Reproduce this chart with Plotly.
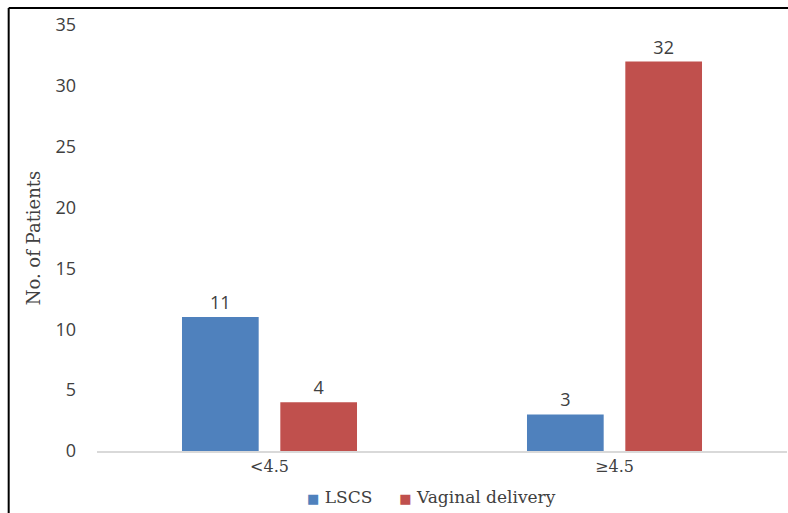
import plotly.graph_objects as go

categories = ["<4.5", "≥4.5"]
lscs = [11, 3]
vaginal = [4, 32]
y_ticks = [0, 5, 10, 15, 20, 25, 30, 35]
series_names = ["LSCS", "Vaginal delivery"]
series_colors = ["#4F81BD", "#C0504D"]

SERIF = "'DejaVu Serif', serif"
SANS = "'Open Sans', 'Noto Sans', sans-serif"
TEXT = "#404040"

fig = go.Figure()
for name, values, color in zip(series_names, [lscs, vaginal], series_colors):
    fig.add_trace(go.Bar(
        name=name, x=categories, y=values,
        marker=dict(color=color, line=dict(width=0)),
        text=values, textposition="outside", cliponaxis=False,
        textfont=dict(family=SANS, size=18, color=TEXT),
        showlegend=False,
    ))

# compact legend line under the category labels
legend_text = "     ".join(
    f"<span style='color:{c};font-size:13px'>■</span> {n}"
    for n, c in zip(series_names, series_colors)
)

fig.update_layout(
    width=788, height=513,
    margin=dict(l=97, r=1, t=25, b=62),
    paper_bgcolor="white", plot_bgcolor="white",
    barmode="group", bargap=0.43, bargroupgap=0.22,
    xaxis=dict(showline=True, linecolor="#D9D9D9", linewidth=1.5,
               tickfont=dict(family=SERIF, size=16, color=TEXT),
               ticks="", showgrid=False),
    yaxis=dict(range=[0, 35], tickvals=y_ticks, showgrid=False, zeroline=False,
               showline=False, ticks="", ticklabelstandoff=20,
               tickfont=dict(family=SANS, size=18, color=TEXT),
               title=dict(text="No. of Patients", standoff=10,
                          font=dict(family=SERIF, size=18, color=TEXT))),
    annotations=[
        dict(text=legend_text, xref="paper", yref="paper", x=0.485, y=-0.108,
             xanchor="center", yanchor="middle", showarrow=False,
             font=dict(family=SERIF, size=17, color=TEXT)),
    ],
    shapes=[
        dict(type="line", xref="paper", yref="paper", x0=-0.128, x1=1.01,
             y0=(451 - 8) / 426, y1=(451 - 8) / 426, line=dict(color="black", width=2)),
        dict(type="line", xref="paper", yref="paper", x0=-0.128, x1=-0.128,
             y0=(451 - 8) / 426, y1=-0.2, line=dict(color="black", width=2)),
    ],
)

fig.write_html("out.html")
